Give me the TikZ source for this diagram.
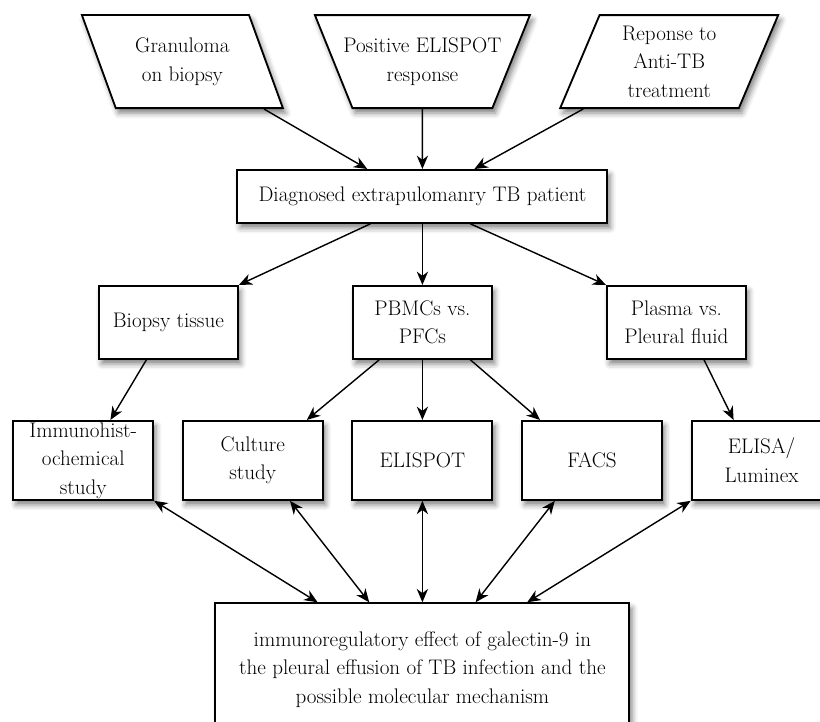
\documentclass[tikz,border=0pt]{standalone}
\usepackage{tikz}
\usetikzlibrary{arrows.meta,shapes.geometric,shadows.blur}

\begin{document}
\begin{tikzpicture}[->, >={Stealth[length=9.5pt,width=8pt,inset=3pt]}, line width=1pt,
    font=\fontsize{15}{20.3}\selectfont]
\tikzstyle{box}=[draw=black, fill=white, line width=1.3pt, align=center, inner sep=1pt,
    blur shadow={shadow xshift=2pt, shadow yshift=-3.5pt, shadow blur radius=4pt, shadow opacity=50}]
\tikzstyle{input}=[box, trapezium, trapezium stretches body, inner ysep=16.2pt, minimum height=2.325cm]
\tikzstyle{sample}=[box, minimum width=3.475cm, minimum height=1.825cm]
\tikzstyle{method}=[box, minimum width=3.5cm, minimum height=1.975cm]

\useasboundingbox (0,0) rectangle (20.5,-18.05);

% inputs
\node[input, inner xsep=-10pt, trapezium left angle=112, trapezium right angle=112, minimum width=5.375cm]
    (pos) at (10.56,-1.54) {Positive ELISPOT\\response};
\node[input, trapezium left angle=110, trapezium right angle=70, minimum width=5.025cm]
    (gran)[left of=pos, node distance=6cm] {Granuloma\\on biopsy};
\node[input, inner ysep=7.5pt, trapezium left angle=67, trapezium right angle=113, minimum width=5.45cm]
    (resp)[right of=pos, node distance=6.17cm] {Reponse to\\Anti-TB\\treatment};

\node[box, minimum width=9.25cm, minimum height=1.325cm]
    (diag)[below of=pos, node distance=3.37cm] {Diagnosed extrapulomanry TB patient};

% samples
\node[sample] (pbmc)[below of=diag, node distance=3.15cm] {PBMCs vs.\\PFCs};
\node[sample] (biopsy)[left of=pbmc, node distance=6.35cm] {Biopsy tissue};
\node[sample] (plasma)[right of=pbmc, node distance=6.35cm] {Plasma vs.\\Pleural fluid};

% methods
\node[method] (elispot)[below of=pbmc, node distance=3.45cm] {ELISPOT};
\node[method] (culture)[left of=elispot, node distance=4.24cm] {Culture\\study};
\node[method] (imm)[left of=culture, node distance=4.24cm] {Immunohist-\\ochemical\\study};
\node[method] (facs)[right of=elispot, node distance=4.24cm] {FACS};
\node[method] (elisa)[right of=facs, node distance=4.24cm] {ELISA/\\Luminex};

\node[box, minimum width=10.35cm, minimum height=3.3cm]
    (mech)[below of=elispot, node distance=5.22cm]
    {immunoregulatory effect of galectin-9 in\\the pleural effusion of TB infection and the\\possible molecular mechanism};

\path
(gran) edge ([xshift=-1.38cm]diag.north)
(pos)  edge (diag)
(resp) edge ([xshift=1.3cm]diag.north)
([xshift=-1.3cm]diag.south) edge (biopsy.north east)
(diag) edge (pbmc)
([xshift=1.2cm]diag.south)  edge (plasma.north west)
([xshift=-0.55cm]biopsy.south) edge ([xshift=0.68cm]imm.north)
([xshift=-1.08cm]pbmc.south)   edge ([xshift=1.35cm]culture.north)
(pbmc) edge (elispot)
([xshift=1.2cm]pbmc.south)     edge ([xshift=-1.3cm]facs.north)
([xshift=0.69cm]plasma.south)  edge ([xshift=-0.7cm]elisa.north);

\path
(imm.south east)               edge[<->] ([xshift=-2.62cm]mech.north)
([xshift=0.93cm]culture.south) edge[<->] ([xshift=-1.33cm]mech.north)
(elispot)                      edge[<->] (mech)
([xshift=-0.93cm]facs.south)   edge[<->] ([xshift=1.33cm]mech.north)
(elisa.south west)             edge[<->] ([xshift=2.62cm]mech.north);
\end{tikzpicture}
\end{document}
